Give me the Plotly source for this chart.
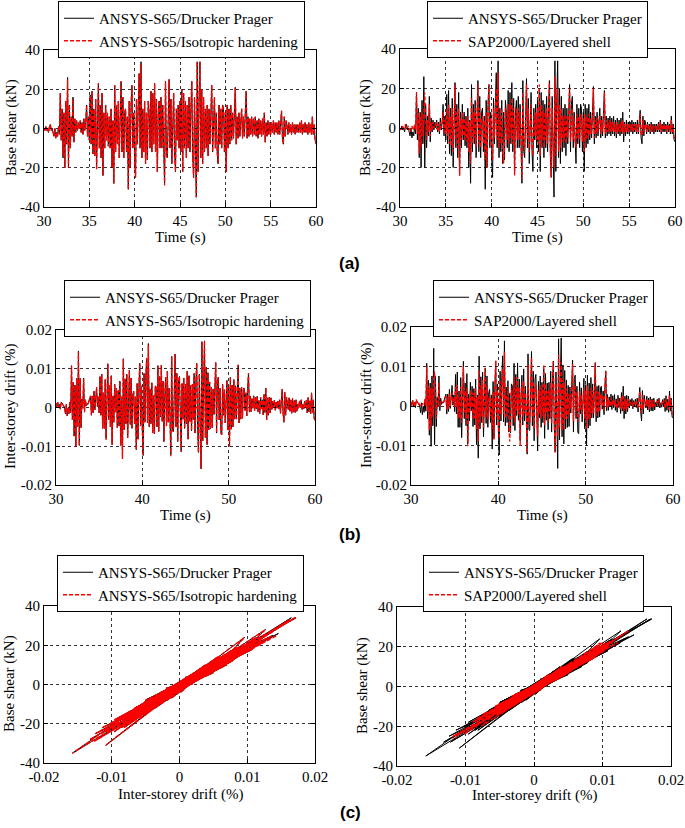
import numpy as np
import plotly.graph_objects as go

# ---------------- data ----------------
time_start = 30.0
time_step = 0.1

name_dp = "ANSYS-S65/Drucker Prager"
name_iso = "ANSYS-S65/Isotropic hardening"
name_sap = "SAP2000/Layered shell"

# Base shear (kN), sampled every 0.1 s from 30 s to 60 s
shear_dp = [
    0, -1, 1, -1, 0, -2, 1, 2, -1, 0,
    -2, -4, 0, -5, -2, -4, 1, -3, 18, -6,
    10, -15, 8, -20, 14, -8, 26, -20, 12, -10,
    6, -4, 16, -7, 5, -2, 4, -1, 3, 0,
    4, -2, 3, -3, 5, -1, 3, 12, -4, 6,
    -6, 17, -8, 19, -13, 10, -14, 15, -20, 8,
    23, -10, 12, -15, 18, -24, 8, -10, 12, -6,
    8, -9, 6, -10, 10, -20, 4, -28, 22, -12,
    12, -8, 14, -15, 10, 24, -12, 16, -15, 8,
    10, -12, 6, -31, 14, -20, 12, 22, -10, 8,
    -15, -25, 15, -8, 12, 28, -10, 34, -15, 10,
    -12, 14, -18, 8, -16, 14, 8, -10, 19, -12,
    18, -8, 23, -12, 15, -22, 8, 14, -10, 16,
    -10, 12, -8, -28, 24, -12, -15, 10, 25, -10,
    15, -18, 10, 18, -12, -22, 10, -6, 12, -10,
    14, -12, 20, -22, 18, -10, 14, -15, 12, -10,
    16, -12, 10, 24, -14, -25, 16, -8, -35, 34,
    -22, 14, 34, -15, 20, -18, 16, -12, 10, -10,
    12, -14, 10, -8, 14, 22, -12, 12, 16, -10,
    8, -12, -18, 12, -8, 10, -10, 12, 10, -12,
    8, -22, 12, -10, 10, -8, 12, -6, 8, -5,
    6, 21, -8, 6, -5, 8, -4, 7, 10, -5,
    6, -4, 8, 19, -5, 6, -4, 5, -3, 6,
    -4, 5, -3, 6, -4, 4, -5, 5, -3, 4,
    -4, 5, -3, 8, -7, 3, -4, 4, -3, 3,
    -3, 3, -2, 4, -3, 3, -2, 3, -3, 4,
    -3, 5, 9, -5, -8, 6, -4, 4, 2, -3,
    3, -2, 2, -3, 3, -2, 2, -3, 2, -2,
    2, -2, 3, -2, 4, -3, 2, -2, 3, -2,
    2, -3, 3, -2, 2, -3, 6, -3, 2, -6,
    -7,
]

shear_iso = [
    0, -1, 1, -1, 0, -2, 1, 2, -1, 0,
    -2, -4, 0, -5, -2, -4, 1, -3, 18, -6,
    10, -14, 8, -20, 14, -8, 25, -20, 12, -10,
    6, -4, 15, -7, 5, -2, 4, -1, 3, 0,
    4, -2, 3, -3, 5, -1, 3, 12, -4, 6,
    -6, 17, -8, 19, -13, 10, -14, 15, -21, 8,
    23, -10, 12, -15, 18, -24, 8, -10, 12, -6,
    8, -9, 6, -10, 10, -20, 4, -28, 22, -12,
    12, -8, 14, -15, 10, 24, -12, 16, -15, 8,
    10, -12, 6, -31, 14, -20, 12, 22, -10, 8,
    -15, -25, 15, -8, 12, 28, -10, 33, -15, 10,
    -12, 14, -18, 8, -16, 14, 8, -10, 19, -12,
    18, -8, 23, -12, 15, -22, 8, 14, -10, 16,
    -10, 12, -8, -29, 24, -12, -15, 10, 25, -10,
    15, -18, 10, 18, -12, -22, 10, -6, 12, -10,
    14, -12, 20, -22, 18, -10, 14, -15, 12, -10,
    16, -12, 10, 24, -14, -25, 16, -8, -35, 34,
    -22, 14, 34, -15, 20, -18, 16, -12, 10, -10,
    12, -14, 10, -8, 14, 22, -12, 12, 16, -10,
    8, -12, -18, 12, -8, 10, -10, 12, 10, -12,
    8, -22, 12, -10, 10, -8, 12, -6, 8, -5,
    6, 21, -8, 6, -5, 8, -4, 7, 10, -5,
    6, -4, 8, 19, -5, 6, -4, 5, -3, 6,
    -4, 5, -3, 6, -4, 4, -5, 5, -3, 4,
    -4, 5, -3, 8, -7, 3, -4, 4, -3, 3,
    -3, 3, -2, 4, -3, 3, -2, 3, -3, 4,
    -3, 5, 9, -5, -8, 6, -4, 4, 2, -3,
    3, -2, 2, -3, 3, -2, 2, -3, 2, -2,
    2, -2, 3, -2, 4, -3, 2, -2, 3, -2,
    2, -3, 3, -2, 2, -3, 6, -3, 2, -6,
    -8,
]

shear_sap = [
    0, -1, 1, 0, 1, -1, 2, 1, 0, 1,
    -1, 0, -2, 1, -1, 0, 2, -1, 18, -3,
    8, -13, 6, -10, 8, -4, 12, 18, 6, -6,
    4, -2, 12, -4, 3, -1, 3, 0, 2, 1,
    3, -1, 2, -2, 3, 0, 2, 8, -2, 4,
    -3, 10, -4, 12, -8, 6, -9, 10, -12, 5,
    22, -6, 8, -10, 10, -24, 5, -6, 8, -4,
    5, -6, 4, -7, 6, -12, 3, -18, 15, -8,
    8, -5, 10, -10, 6, 22, -8, 10, -10, 5,
    6, -8, 4, -16, 8, -20, 8, 22, -6, 5,
    -10, -16, 10, -5, 8, 20, -6, 28, -10, 6,
    -8, 10, -12, -18, -10, 10, 5, -6, 12, -8,
    12, -5, 15, -8, 10, -24, 5, 10, -6, 10,
    -6, 8, -5, -26, 18, -8, -10, 6, 22, -6,
    10, -12, 6, 12, -8, -14, 6, -4, 8, -6,
    10, -8, 22, -14, 12, -6, 9, -10, 8, -6,
    10, -8, 6, 23, -9, -25, 10, -5, -20, 26,
    -14, 9, 20, -12, 12, -10, 10, -7, 6, -6,
    7, -8, 6, -5, 9, 20, -7, 7, 10, -6,
    5, -7, -10, 7, -5, 6, -6, 7, 6, -7,
    5, -12, 7, -6, 6, -5, 7, -4, 5, -3,
    4, 20, -5, 4, -3, 5, -2, 4, 6, -3,
    4, -2, 5, 18, -3, 4, -2, 3, -2, 4,
    -2, 3, -2, 3, -2, 2, -3, 3, -2, 2,
    -2, 3, -2, 4, -3, 2, -2, 2, -2, 2,
    -2, 2, -1, 2, -2, 2, -1, 2, -2, 2,
    -2, 3, 7, -3, -4, 4, -2, 2, 1, -2,
    2, -1, 1, -2, 2, -1, 1, -2, 1, -1,
    1, -1, 2, -1, 3, -2, 1, -1, 2, -1,
    1, -2, 2, -1, 1, -2, 4, -2, 1, -5,
    -6,
]

# Inter-storey drift, in units of 1e-4 % (e.g. 170 -> 0.017 %)
drift_dp_e4 = [
    11, 2, 14, 0, 8, -4, 13, 12, 7, 3,
    0, -17, 8, -22, -2, -16, 14, -13, 108, -32,
    65, -74, 58, -102, 76, -50, 146, -98, 75, -52,
    22, -2, 76, -12, 20, 4, 10, 8, 16, 18,
    30, -20, 30, -14, 42, -6, 24, 52, 2, 28,
    -14, 80, -20, 86, -54, 38, -54, 72, -80, 34,
    113, -32, 58, -50, 82, -96, 30, -38, 60, -12,
    50, -52, 44, -48, 68, -98, 28, -132, 126, -58,
    74, -42, 86, -78, 58, 96, -44, 76, -54, 34,
    42, -42, 28, -109, 62, -82, 50, 114, -48, 56,
    -60, -124, 88, -38, 78, 127, -40, 165, -50, 48,
    -42, 64, -66, 32, -68, 56, 52, -50, 108, -62,
    80, -24, 109, -36, 68, -88, 30, 78, -48, 94,
    -38, 50, -24, -122, 132, -60, -62, 42, 138, -50,
    88, -88, 68, 80, -48, -114, 62, -30, 76, -54,
    60, -42, 94, -82, 82, -36, 58, -60, 60, -32,
    88, -66, 64, 114, -48, -116, 86, -46, -158, 170,
    -86, 64, 172, -78, 104, -96, 90, -58, 66, -54,
    52, -52, 48, -18, 62, 116, -66, 70, 78, -32,
    50, -66, -70, 60, -20, 46, -40, 52, 70, -58,
    54, -100, 78, -56, 58, -50, 72, -30, 56, -30,
    22, 110, -40, 50, -30, 52, -28, 46, 50, -8,
    38, -22, 50, 89, -12, 29, -11, 23, -2, 30,
    -9, 26, -4, 29, -11, 18, -16, 27, -4, 20,
    -19, 34, -13, 50, -32, 25, -20, 27, -14, 25,
    -5, 16, 0, 19, -7, 14, -2, 17, -4, 20,
    -15, 34, 47, -14, -38, 39, -20, 27, 10, -5,
    25, -10, 20, -15, 23, -12, 18, -13, 20, -10,
    9, -2, 17, 0, 20, -5, 8, -3, 16, -1,
    19, -14, 26, -11, 17, -16, 38, -13, 20, -28,
    -30,
]

drift_iso_e4 = [
    11, 2, 14, 0, 8, -4, 13, 12, 7, 3,
    0, -17, 8, -22, -2, -16, 14, -13, 108, -32,
    65, -72, 58, -102, 76, -50, 144, -98, 75, -52,
    22, -2, 74, -12, 20, 4, 10, 8, 16, 18,
    30, -20, 30, -14, 42, -6, 24, 52, 2, 28,
    -14, 80, -20, 86, -54, 38, -54, 72, -84, 34,
    113, -32, 58, -50, 82, -96, 30, -38, 60, -12,
    50, -52, 44, -48, 68, -98, 28, -132, 126, -58,
    74, -42, 86, -78, 58, 96, -44, 76, -54, 34,
    42, -42, 28, -109, 62, -82, 50, 114, -48, 56,
    -60, -124, 88, -38, 78, 127, -40, 162, -50, 48,
    -42, 64, -66, 32, -68, 56, 52, -50, 108, -62,
    80, -24, 109, -36, 68, -88, 30, 78, -48, 94,
    -38, 50, -24, -126, 132, -60, -62, 42, 138, -50,
    88, -88, 68, 80, -48, -114, 62, -30, 76, -54,
    60, -42, 94, -82, 82, -36, 58, -60, 60, -32,
    88, -66, 64, 114, -48, -116, 86, -46, -158, 170,
    -86, 64, 172, -78, 104, -96, 90, -58, 66, -54,
    52, -52, 48, -18, 62, 116, -66, 70, 78, -32,
    50, -66, -70, 60, -20, 46, -40, 52, 70, -58,
    54, -100, 78, -56, 58, -50, 72, -30, 56, -30,
    22, 110, -40, 50, -30, 52, -28, 46, 50, -8,
    38, -22, 50, 89, -12, 29, -11, 23, -2, 30,
    -9, 26, -4, 29, -11, 18, -16, 27, -4, 20,
    -19, 34, -13, 50, -32, 25, -20, 27, -14, 25,
    -5, 16, 0, 19, -7, 14, -2, 17, -4, 20,
    -15, 34, 47, -14, -38, 39, -20, 27, 10, -5,
    25, -10, 20, -15, 23, -12, 18, -13, 20, -10,
    9, -2, 17, 0, 20, -5, 8, -3, 16, -1,
    19, -14, 26, -11, 17, -16, 38, -13, 20, -28,
    -34,
]

drift_sap_e4 = [
    9, 0, 14, 3, 12, -2, 17, 8, 10, 7,
    6, 3, -2, 6, 5, 4, 18, -1, 100, -14,
    52, -62, 45, -54, 47, -27, 70, 87, 44, -32,
    14, 4, 59, -1, 12, 8, 9, 11, 11, 20,
    25, -9, 22, -7, 31, 0, 17, 34, 9, 19,
    -2, 48, -3, 54, -31, 21, -32, 49, -42, 22,
    100, -16, 39, -31, 46, -102, 19, -19, 41, -4,
    35, -35, 32, -31, 45, -58, 23, -90, 91, -39,
    52, -26, 65, -54, 37, 97, -28, 49, -34, 22,
    24, -26, 19, -59, 36, -86, 33, 115, -27, 40,
    -39, -83, 62, -23, 55, 94, -21, 138, -31, 29,
    -26, 48, -41, -90, -41, 41, 36, -29, 74, -42,
    54, -12, 73, -21, 46, -102, 19, 59, -27, 64,
    -19, 33, -12, -119, 103, -40, -41, 24, 123, -29,
    62, -58, 45, 54, -31, -75, 40, -19, 54, -32,
    44, -26, 105, -49, 56, -18, 37, -39, 41, -14,
    59, -45, 42, 112, -27, -118, 57, -30, -77, 130,
    -54, 42, 111, -62, 67, -57, 60, -33, 44, -32,
    30, -26, 29, -7, 40, 106, -39, 45, 51, -14,
    35, -39, -36, 37, -9, 28, -21, 30, 47, -33,
    38, -58, 51, -34, 37, -33, 46, -19, 40, -18,
    14, 108, -25, 37, -18, 36, -15, 29, 31, 0,
    27, -10, 35, 90, -4, 20, -2, 15, 2, 21,
    0, 17, 1, 16, -2, 9, -7, 18, 1, 11,
    -8, 23, -6, 29, -13, 18, -9, 16, -7, 18,
    0, 11, 7, 10, -2, 9, 5, 12, 1, 11,
    -8, 23, 38, -5, -17, 28, -9, 16, 7, 0,
    18, -1, 15, -8, 16, -3, 13, -6, 15, -1,
    6, 5, 12, 7, 17, 0, 5, 4, 11, 6,
    14, -7, 19, -2, 12, -9, 27, -6, 15, -23,
    -24,
]

time_ticks_a = [30, 35, 40, 45, 50, 55, 60]
time_ticks_b = [30, 40, 50, 60]
shear_ticks = [-40, -20, 0, 20, 40]
shear_ticklabels = ["-40", "-20", "0", "20", "40"]
drift_ticks = [-0.02, -0.01, 0, 0.01, 0.02]
drift_ticklabels = ["-0.02", "-0.01", "0", "0.01", "0.02"]

series = [shear_dp, shear_iso, shear_sap, drift_dp_e4, drift_iso_e4, drift_sap_e4]
assert all(len(s) == 301 for s in series), [len(s) for s in series]

# ---------------- figure ----------------
t = time_start + time_step * np.arange(len(shear_dp))
drift_unit = 1e-4
d_dp = np.array(drift_dp_e4) * drift_unit
d_iso = np.array(drift_iso_e4) * drift_unit
d_sap = np.array(drift_sap_e4) * drift_unit

W, H = 685, 828
SERIF = "Liberation Serif, Times New Roman, serif"
SANS = "Liberation Sans, Arial, sans-serif"
FS = 15


def xdom(x0, x1):
    return [x0 / W, x1 / W]


def ydom(y0, y1):
    return [1 - y1 / H, 1 - y0 / H]


# pixel boxes (left, right, top, bottom) for the six panels
boxes = [
    (44, 316, 50, 207),
    (400, 675, 49, 207),
    (56, 315, 330, 485),
    (411, 673, 327, 485),
    (44, 315, 606, 763),
    (397, 671, 607, 766),
]

fig = go.Figure()

black = dict(color="black", width=1)
red = dict(color="red", width=1.3, dash="4px,2px")

panel_traces = [
    [(t, shear_dp, name_dp, black), (t, shear_iso, name_iso, red)],
    [(t, shear_dp, name_dp, black), (t, shear_sap, name_sap, red)],
    [(t, d_dp, name_dp, black), (t, d_iso, name_iso, red)],
    [(t, d_dp, name_dp, black), (t, d_sap, name_sap, red)],
    [(d_dp, shear_dp, name_dp, black), (d_iso, shear_iso, name_iso, red)],
    [(d_dp, shear_dp, name_dp, black), (d_sap, shear_sap, name_sap, red)],
]

for i, tr in enumerate(panel_traces):
    k = i + 1
    xa = "x" if k == 1 else f"x{k}"
    ya = "y" if k == 1 else f"y{k}"
    lg = "legend" if k == 1 else f"legend{k}"
    for x, y, nm, ln in tr:
        fig.add_trace(go.Scatter(x=x, y=y, mode="lines", name=nm, line=ln,
                                 xaxis=xa, yaxis=ya, legend=lg))

axis_common = dict(
    showline=True, linecolor="black", linewidth=1, mirror="ticks",
    ticks="inside", ticklen=4, tickcolor="black", tickwidth=1,
    showgrid=True, gridcolor="#333", griddash="dot", gridwidth=1,
    zeroline=False, automargin=False,
    tickfont=dict(family=SERIF, size=FS, color="black"),
)

x_specs = [
    dict(range=[30, 60], tickvals=time_ticks_a, ticktext=[str(v) for v in time_ticks_a]),
    dict(range=[30, 60], tickvals=time_ticks_a, ticktext=[str(v) for v in time_ticks_a]),
    dict(range=[30, 60], tickvals=time_ticks_b, ticktext=[str(v) for v in time_ticks_b]),
    dict(range=[30, 60], tickvals=time_ticks_b, ticktext=[str(v) for v in time_ticks_b]),
    dict(range=[-0.02, 0.02], tickvals=drift_ticks, ticktext=drift_ticklabels),
    dict(range=[-0.02, 0.02], tickvals=drift_ticks, ticktext=drift_ticklabels),
]
y_specs = [
    dict(range=[-40, 40], tickvals=shear_ticks, ticktext=shear_ticklabels),
    dict(range=[-40, 40], tickvals=shear_ticks, ticktext=shear_ticklabels),
    dict(range=[-0.02, 0.02], tickvals=drift_ticks, ticktext=drift_ticklabels),
    dict(range=[-0.02, 0.02], tickvals=drift_ticks, ticktext=drift_ticklabels),
    dict(range=[-40, 40], tickvals=shear_ticks, ticktext=shear_ticklabels),
    dict(range=[-40, 40], tickvals=shear_ticks, ticktext=shear_ticklabels),
]

layout = {}
for i, (l, r, tp, b) in enumerate(boxes):
    k = i + 1
    xk = "xaxis" if k == 1 else f"xaxis{k}"
    yk = "yaxis" if k == 1 else f"yaxis{k}"
    ya = "y" if k == 1 else f"y{k}"
    xa = "x" if k == 1 else f"x{k}"
    layout[xk] = dict(axis_common, domain=xdom(l, r), anchor=ya, **x_specs[i])
    layout[yk] = dict(axis_common, domain=ydom(tp, b), anchor=xa, **y_specs[i])

legend_pos = [(58, 1), (427, 1), (64, 280), (433, 280), (57, 555), (423, 555)]
for i, (lx, ly) in enumerate(legend_pos):
    k = i + 1
    lk = "legend" if k == 1 else f"legend{k}"
    layout[lk] = dict(
        x=lx / W, y=1 - ly / H, xanchor="left", yanchor="top",
        xref="paper", yref="paper",
        bgcolor="white", bordercolor="black", borderwidth=1,
        font=dict(family=SERIF, size=FS, color="black"),
        tracegroupgap=0, itemwidth=30,
    )

annotations = []


def ann(text, px, py, angle=0, size=FS, family=SERIF):
    annotations.append(dict(
        text=text, x=px / W, y=1 - py / H, xref="paper", yref="paper",
        xanchor="center", yanchor="middle", showarrow=False, textangle=angle,
        font=dict(family=family, size=size, color="black")))


# axis titles
ann("Time (s)", 180, 238)
ann("Time (s)", 537, 238)
ann("Time (s)", 185, 515)
ann("Time (s)", 542, 515)
ann("Inter-storey drift (%)", 180, 794)
ann("Inter-storey drift (%)", 534, 795)
ann("Base shear (kN)", 11, 128, -90)
ann("Base shear (kN)", 365, 128, -90)
ann("Inter-storey drift (%)", 11, 407, -90)
ann("Inter-storey drift (%)", 367, 406, -90)
ann("Base shear (kN)", 9, 684, -90)
ann("Base shear (kN)", 362, 686, -90)
# panel labels
ann("<b>(a)</b>", 349, 263, size=17, family=SANS)
ann("<b>(b)</b>", 350, 534, size=17, family=SANS)
ann("<b>(c)</b>", 350, 812, size=17, family=SANS)

fig.update_layout(
    width=W, height=H, autosize=False,
    margin=dict(l=0, r=0, t=0, b=0, pad=0, autoexpand=False),
    paper_bgcolor="white", plot_bgcolor="white",
    font=dict(family=SERIF, size=FS, color="black"),
    showlegend=True,
    annotations=annotations,
    **layout,
)

fig.write_html(
    "out.html",
    config={"displayModeBar": False, "responsive": False},
    post_script="document.body.style.margin='0';document.body.style.overflow='hidden';",
)
